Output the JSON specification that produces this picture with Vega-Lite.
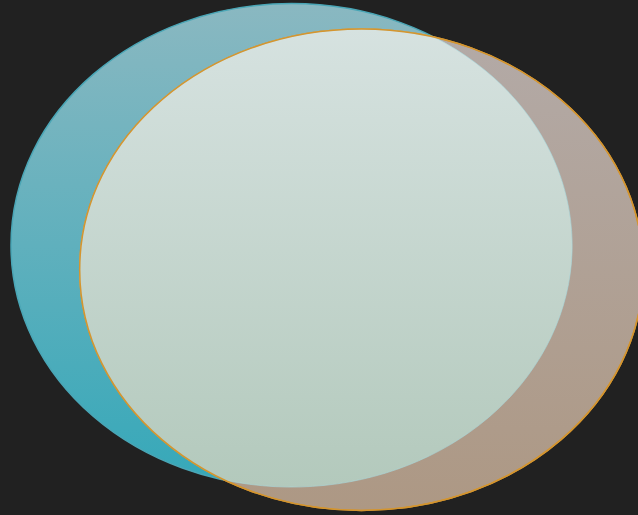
{
  "$schema": "https://vega.github.io/schema/vega-lite/v6.json",
  "autosize": {"type": "none"},
  "width": 638,
  "height": 515,
  "padding": 0,
  "background": "#212121",
  "view": {"stroke": null},
  "data": {"values": [
    {"set": "A", "cx": 291.5, "cy": 245.3},
    {"set": "B", "cx": 361.5, "cy": 269.7},
    {"set": "A∩B", "cx": 325, "cy": 258}
  ]},
  "encoding": {
    "x": {"field": "cx", "type": "quantitative", "scale": {"domain": [0, 638], "nice": false, "zero": false}, "axis": null},
    "y": {"field": "cy", "type": "quantitative", "scale": {"domain": [0, 515], "nice": false, "zero": false, "reverse": true}, "axis": null}
  },
  "layer": [
    {
      "transform": [{"filter": "datum.set === 'A'"}],
      "mark": {"type": "point", "filled": true, "size": 40000, "opacity": 1,
        "shape": "M-2.805,0A2.805,2.417 0 1,1 2.805,0A2.805,2.417 0 1,1 -2.805,0Z",
        "fill": {"gradient": "linear", "x1": 0, "y1": 0, "x2": 0, "y2": 1,
          "stops": [{"offset": 0, "color": "#8ab8c1"}, {"offset": 1, "color": "#35a8b9"}]},
        "stroke": "#4aa6b6", "strokeWidth": 1.5, "strokeOpacity": 1}
    },
    {
      "transform": [{"filter": "datum.set === 'B'"}],
      "mark": {"type": "point", "filled": true, "size": 40000, "opacity": 1,
        "shape": "M-2.818,0A2.818,2.407 0 1,1 2.818,0A2.818,2.407 0 1,1 -2.818,0Z",
        "fill": {"gradient": "linear", "x1": 0, "y1": 0, "x2": 0, "y2": 1,
          "stops": [{"offset": 0, "color": "#b3aaa7"}, {"offset": 1, "color": "#ad9884"}]},
        "stroke": "#d4952f", "strokeWidth": 1.5, "strokeOpacity": 1}
    },
    {
      "transform": [{"filter": "datum.set === 'A∩B'"}],
      "mark": {"type": "point", "filled": true, "size": 40000, "opacity": 1,
        "shape": "M1.090,-2.209A2.818,2.407 0 0,0 -1.006,2.220A2.805,2.417 0 0,0 1.090,-2.209Z",
        "fill": {"gradient": "linear", "x1": 0, "y1": 0, "x2": 0, "y2": 1,
          "stops": [{"offset": 0, "color": "#d6e2e0"}, {"offset": 1, "color": "#b3c9bc"}]},
        "stroke": "#a9dbe0", "strokeWidth": 1, "strokeOpacity": 0.6}
    },
    {
      "transform": [{"filter": "datum.set === 'B'"}],
      "mark": {"type": "point", "filled": false, "size": 40000, "opacity": 1,
        "shape": "M-2.818,0A2.818,2.407 0 1,1 2.818,0A2.818,2.407 0 1,1 -2.818,0Z",
        "fill": null, "stroke": "#d4952f", "strokeWidth": 1.5, "strokeOpacity": 1}
    }
  ]
}
